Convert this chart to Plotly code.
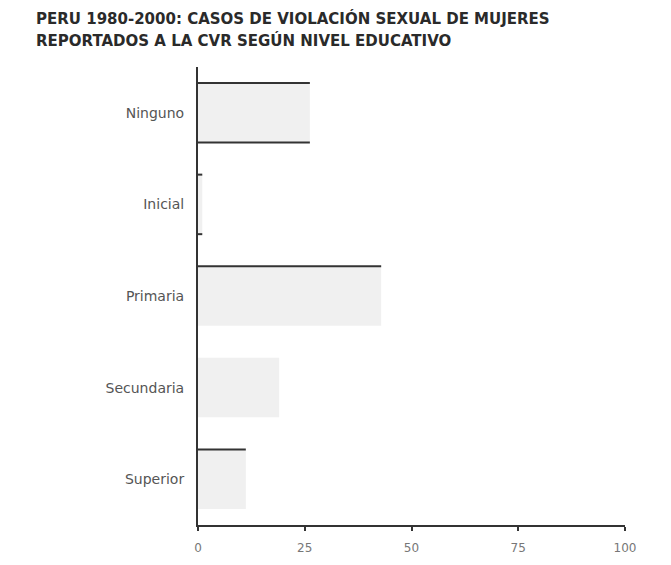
import plotly.graph_objects as go

categories = ["Ninguno", "Inicial", "Primaria", "Secundaria", "Superior"]
values = [26.2, 1.0, 42.9, 19.0, 11.2]
x_ticks = [0, 25, 50, 75, 100]
title_lines = ["PERU 1980-2000: CASOS DE VIOLACIÓN SEXUAL DE MUJERES",
               "REPORTADOS A LA CVR SEGÚN NIVEL EDUCATIVO"]

# which bar edges are drawn with a dark rule (style only)
edge_top = [True, True, True, False, True]
edge_bottom = [True, True, False, False, False]

BAR_W = 0.65
FONT = "DejaVu Sans, Liberation Sans, Arial, sans-serif"

# page body has an 8px margin, so the figure is sized to fit the window
W, H = 655, 549
L, R, T, B = 190, 38, 59, 32
PW, PH = W - L - R, H - T - B

fig = go.Figure()
fig.add_trace(go.Bar(
    y=categories, x=values, orientation="h",
    marker=dict(color="#f0f0f0", line=dict(width=0)),
    width=BAR_W, hoverinfo="x+y",
))

for i, (cat, v) in enumerate(zip(categories, values)):
    for flag, sign in ((edge_top[i], -1), (edge_bottom[i], 1)):
        if flag:
            fig.add_shape(type="line", xref="x", yref="y",
                          x0=0, x1=v, y0=i + sign * BAR_W / 2, y1=i + sign * BAR_W / 2,
                          line=dict(color="#333333", width=2))

# title lines placed as annotations (pixel positions in figure space)
for k, (txt, ypx) in enumerate(zip(title_lines, [11, 32])):
    fig.add_annotation(
        text="<b>" + txt + "</b>", xref="paper", yref="paper",
        x=(26 - L) / PW, y=(T + PH - ypx) / PH, xanchor="left", yanchor="middle",
        showarrow=False, font=dict(size=15, color="#2a2a2a", family=FONT),
    )

fig.update_layout(
    width=W, height=H,
    margin=dict(l=L, r=R, t=T, b=B),
    paper_bgcolor="white", plot_bgcolor="white",
    showlegend=False,
    font=dict(family=FONT, color="#555555", size=12),
    xaxis=dict(
        range=[0, 100], tickvals=x_ticks, ticktext=[str(v) for v in x_ticks],
        showgrid=False, zeroline=False, showline=True, linecolor="#333333", linewidth=2,
        ticks="outside", ticklen=4, tickcolor="#333333", tickwidth=2,
        ticklabelstandoff=7, automargin=False,
        tickfont=dict(size=12, color="#777777", family=FONT),
        fixedrange=True,
    ),
    yaxis=dict(
        categoryorder="array", categoryarray=categories,
        autorange=False, range=[4.5, -0.5],
        showgrid=False, zeroline=False, showline=True, linecolor="#333333", linewidth=2,
        ticks="", ticklabelstandoff=9, automargin=False,
        tickfont=dict(size=14, color="#555555", family=FONT),
        fixedrange=True,
    ),
)

fig.write_html("out.html")
